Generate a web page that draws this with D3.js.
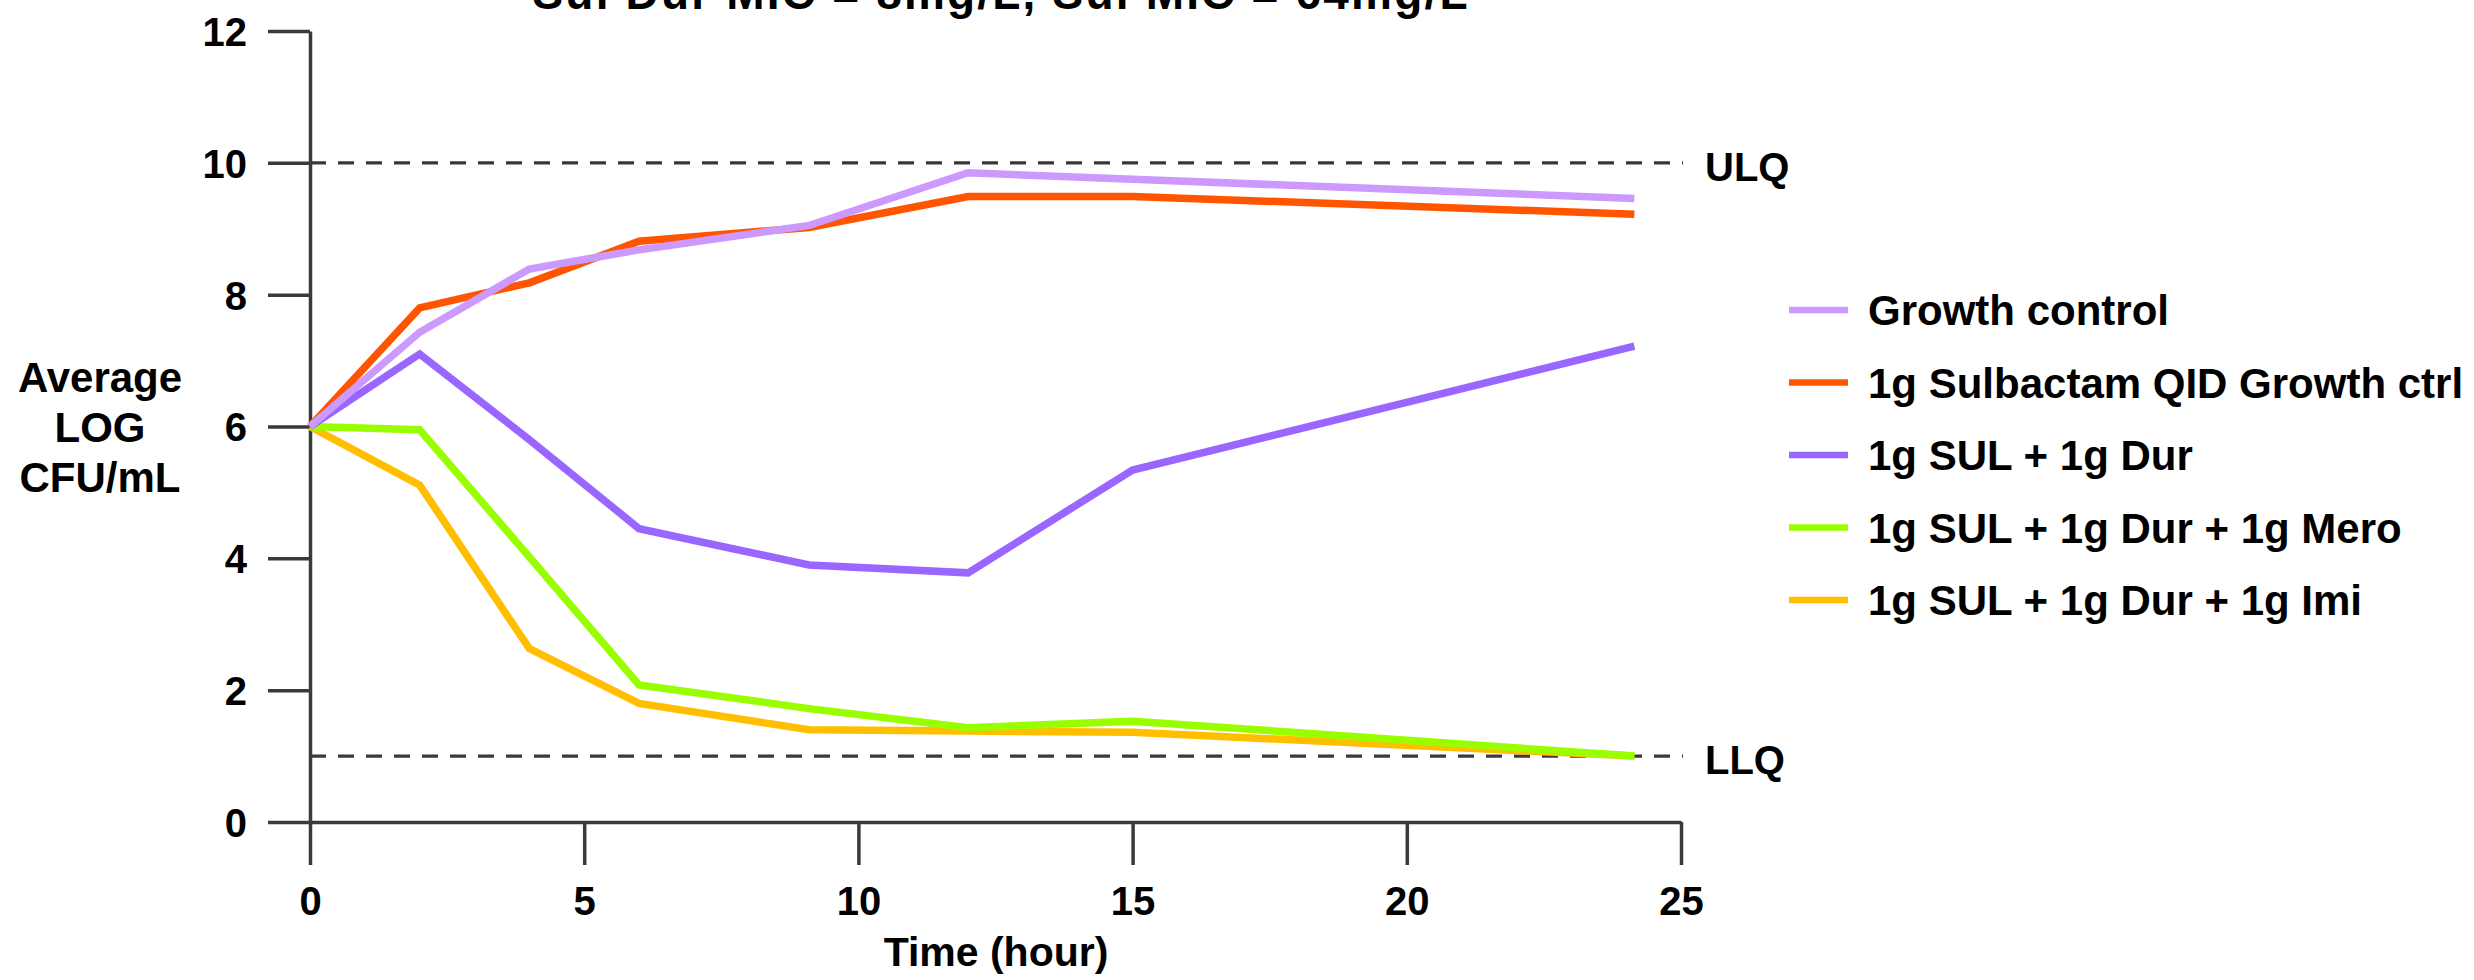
<!DOCTYPE html>
<html>
<head>
<script src="https://d3js.org/d3.v7.min.js"></script>
<style>
    body{ margin:0; background:white; }
    svg{ display:block; font-family:"Liberation Sans", Arial, Helvetica, sans-serif; font-weight:bold; }
</style>
</head>
<body>
<div id="chart"></div>
<script>

    // values
    var times = [0, 2, 4, 6, 9.1, 12, 15, 24.15]
    var growthControl = [6, 7.43, 8.39, 8.68, 9.05, 9.85, 9.75, 9.46]
    var sulbactamCtrl = [6, 7.80, 8.18, 8.81, 9.02, 9.49, 9.49, 9.22]
    var sulDur = [6, 7.10, 5.80, 4.45, 3.90, 3.78, 5.34, 7.22]
    var sulDurMero = [6, 5.95, 4.02, 2.08, 1.72, 1.43, 1.53, 1.0]
    var sulDurImi = [6, 5.11, 2.63, 1.80, 1.40, 1.38, 1.36, 1.0]

    var seriesNames = ["Growth control", "1g Sulbactam QID Growth ctrl", "1g SUL + 1g Dur", "1g SUL + 1g Dur + 1g Mero", "1g SUL + 1g Dur + 1g Imi"]
    var seriesValues = [growthControl, sulbactamCtrl, sulDur, sulDurMero, sulDurImi]
    var seriesColors = ["#cc99ff", "#ff5500", "#9966ff", "#99ff00", "#ffbf00"]

    var xTicks = [0, 5, 10, 15, 20, 25]
    var yTicks = [0, 2, 4, 6, 8, 10, 12]
    var limits = [{value:10, label:"ULQ"}, {value:1, label:"LLQ"}]

    var title = "Sul Dur MIC = 8mg/L, Sul MIC = 64mg/L"
    var axisColor = "#3a3a3a"

    var xScale = d3.scaleLinear().domain([0,25]).range([310,1681])
    var yScale = d3.scaleLinear().domain([0,12]).range([822,31])

    var svg = d3.select("#chart").append("svg")
        .attr("width",2474).attr("height",980)

    // title, cut off at the top like in the original
    svg.append("text").text(title)
        .attr("x",1000).attr("y",9)
        .attr("text-anchor","middle")
        .attr("font-size",46)
        .attr("textLength",935).attr("lengthAdjust","spacing")

    // dashed quantification limits
    limits.forEach(function(l){
        svg.append("line")
            .attr("x1",xScale(0)).attr("x2",xScale(25)+2)
            .attr("y1",yScale(l.value)).attr("y2",yScale(l.value))
            .attr("stroke",axisColor).attr("stroke-width",3.2)
            .attr("stroke-dasharray","16,12")
        svg.append("text").text(l.label)
            .attr("x",1705).attr("y",yScale(l.value)+18)
            .attr("font-size",40)
    })

    var xAxis = d3.axisBottom(xScale).tickValues(xTicks).tickSize(43).tickSizeOuter(0).tickPadding(22)
    var yAxis = d3.axisLeft(yScale).tickValues(yTicks).tickSize(42).tickSizeOuter(0).tickPadding(21)

    var gx = svg.append("g").attr("transform","translate(0,"+yScale(0)+")").call(xAxis)
    var gy = svg.append("g").attr("transform","translate("+xScale(0)+",0)").call(yAxis)

    ;[gx,gy].forEach(function(g){
        g.select(".domain").attr("stroke",axisColor).attr("stroke-width",3.5)
        g.selectAll(".tick line").attr("stroke",axisColor).attr("stroke-width",3.5)
        g.selectAll(".tick text").attr("fill","black").attr("font-size",40)
            .attr("font-family","Liberation Sans, Arial, sans-serif").attr("font-weight","bold")
    })
    gy.selectAll(".tick text").attr("dy","0.36em")

    // axis titles
    svg.append("text").text("Time (hour)")
        .attr("x",996).attr("y",966)
        .attr("text-anchor","middle").attr("font-size",41)

    var yTitle = svg.append("text").attr("text-anchor","middle").attr("font-size",42)
    ;["Average","LOG","CFU/mL"].forEach(function(t,i){
        yTitle.append("tspan").text(t).attr("x",100).attr("y",392+i*50)
    })

    // series lines, first series drawn last so it sits on top
    var line = d3.line()
        .x(function(d,i){ return xScale(times[i]) })
        .y(function(d){ return yScale(d) })

    for(var s = seriesValues.length-1; s >= 0; s--){
        svg.append("path")
            .datum(seriesValues[s])
            .attr("d",line)
            .attr("fill","none")
            .attr("stroke",seriesColors[s])
            .attr("stroke-width",7.5)
            .attr("stroke-linejoin","miter")
    }

    // legend
    var legend = svg.append("g").attr("transform","translate(1789,310)")
    seriesNames.forEach(function(name,i){
        var row = legend.append("g").attr("transform","translate(0,"+(i*72.5)+")")
        row.append("line")
            .attr("x1",0).attr("x2",59).attr("y1",0).attr("y2",0)
            .attr("stroke",seriesColors[i]).attr("stroke-width",6.5)
        row.append("text").text(name)
            .attr("x",79).attr("y",15)
            .attr("font-size",42)
    })

</script>
</body>
</html>
